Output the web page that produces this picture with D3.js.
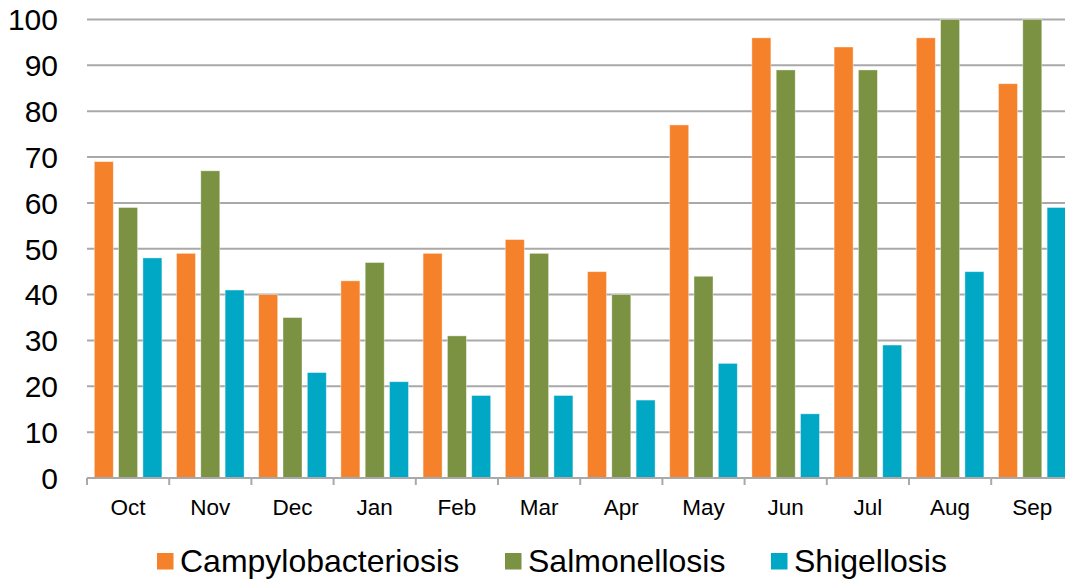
<!DOCTYPE html>
<html>
<head>
<meta charset="utf-8">
<script src="https://cdn.jsdelivr.net/npm/d3@7"></script>
<style>
  body { margin: 0; background: #fff; }
  svg { display: block; font-family: "Liberation Sans", Arial, sans-serif; }
</style>
</head>
<body>
<div id="chart"></div>
<script>
// Monthly case counts
const months = ["Oct", "Nov", "Dec", "Jan", "Feb", "Mar", "Apr", "May", "Jun", "Jul", "Aug", "Sep"];
const seriesNames = ["Campylobacteriosis", "Salmonellosis", "Shigellosis"];
const campylobacteriosis = [69, 49, 40, 43, 49, 52, 45, 77, 96, 94, 96, 86];
const salmonellosis = [59, 67, 35, 47, 31, 49, 40, 44, 89, 89, 100, 100];
const shigellosis = [48, 41, 23, 21, 18, 18, 17, 25, 14, 29, 45, 59];
const yTicks = [0, 10, 20, 30, 40, 50, 60, 70, 80, 90, 100];
const colors = ["#f5812a", "#7a9241", "#00a8c6"];

const width = 1065;
const height = 582;
const plotLeft = 87, plotTop = 19.5, plotBottom = 478;
const plotRight = plotLeft + 12 * 82.2; // plot runs past the right edge

const svg = d3.select("#chart").append("svg")
  .attr("width", width)
  .attr("height", height);

const x = d3.scaleBand().domain(months).range([plotLeft, plotRight]).padding(0);
const xInner = d3.scaleBand().domain(seriesNames).range([0, x.bandwidth()])
  .paddingInner(0.218).paddingOuter(0.3);
const y = d3.scaleLinear().domain([0, 100]).range([plotBottom, plotTop]);

// gridlines
svg.append("g")
  .selectAll("line")
  .data(yTicks.filter(d => d > 0))
  .enter()
  .append("line")
  .attr("x1", plotLeft)
  .attr("x2", width)
  .attr("y1", d => y(d))
  .attr("y2", d => y(d))
  .style("stroke", "#a9a9a9")
  .style("stroke-width", 2);

// y labels
svg.append("g")
  .selectAll("text")
  .data(yTicks)
  .enter()
  .append("text")
  .attr("x", 58)
  .attr("y", d => y(d))
  .attr("dy", "0.36em")
  .attr("text-anchor", "end")
  .style("font-size", "30px")
  .style("fill", "#000")
  .text(d => d);

// bars
const allSeries = [campylobacteriosis, salmonellosis, shigellosis];
const rows = months.map((m, i) => ({
  month: m,
  values: seriesNames.map((s, j) => ({ name: s, value: allSeries[j][i], color: colors[j] }))
}));

const groups = svg.append("g")
  .selectAll("g")
  .data(rows)
  .enter()
  .append("g")
  .attr("transform", d => `translate(${x(d.month)},0)`);

groups.selectAll("rect")
  .data(d => d.values)
  .enter()
  .append("rect")
  .attr("x", d => xInner(d.name))
  .attr("width", xInner.bandwidth())
  .attr("y", d => y(d.value))
  .attr("height", d => plotBottom - y(d.value))
  .style("fill", d => d.color)
  .style("stroke", "#fff")
  .style("stroke-opacity", 0.5)
  .style("stroke-width", 0.8);

// x axis line and ticks
svg.append("line")
  .attr("x1", plotLeft).attr("x2", width)
  .attr("y1", plotBottom).attr("y2", plotBottom)
  .style("stroke", "#a9a9a9")
  .style("stroke-width", 2);

svg.append("g")
  .selectAll("line")
  .data(months.concat(["end"]))
  .enter()
  .append("line")
  .attr("x1", (d, i) => plotLeft + i * x.step())
  .attr("x2", (d, i) => plotLeft + i * x.step())
  .attr("y1", plotBottom)
  .attr("y2", plotBottom + 7)
  .style("stroke", "#a9a9a9")
  .style("stroke-width", 2);

svg.append("g")
  .selectAll("text")
  .data(months)
  .enter()
  .append("text")
  .attr("x", d => x(d) + x.bandwidth() / 2)
  .attr("y", 515)
  .attr("text-anchor", "middle")
  .style("font-size", "22.5px")
  .style("fill", "#000")
  .text(d => d);

// legend
const legendX = [157, 505, 771];
const legend = svg.append("g")
  .selectAll("g")
  .data(seriesNames)
  .enter()
  .append("g")
  .attr("transform", (d, i) => `translate(${legendX[i]},0)`);

legend.append("rect")
  .attr("x", 0)
  .attr("y", 553)
  .attr("width", 16.5)
  .attr("height", 16.5)
  .style("fill", (d, i) => colors[i]);

legend.append("text")
  .attr("x", 23)
  .attr("y", 572)
  .style("font-size", "32px")
  .style("fill", "#000")
  .text(d => d);
</script>
</body>
</html>
